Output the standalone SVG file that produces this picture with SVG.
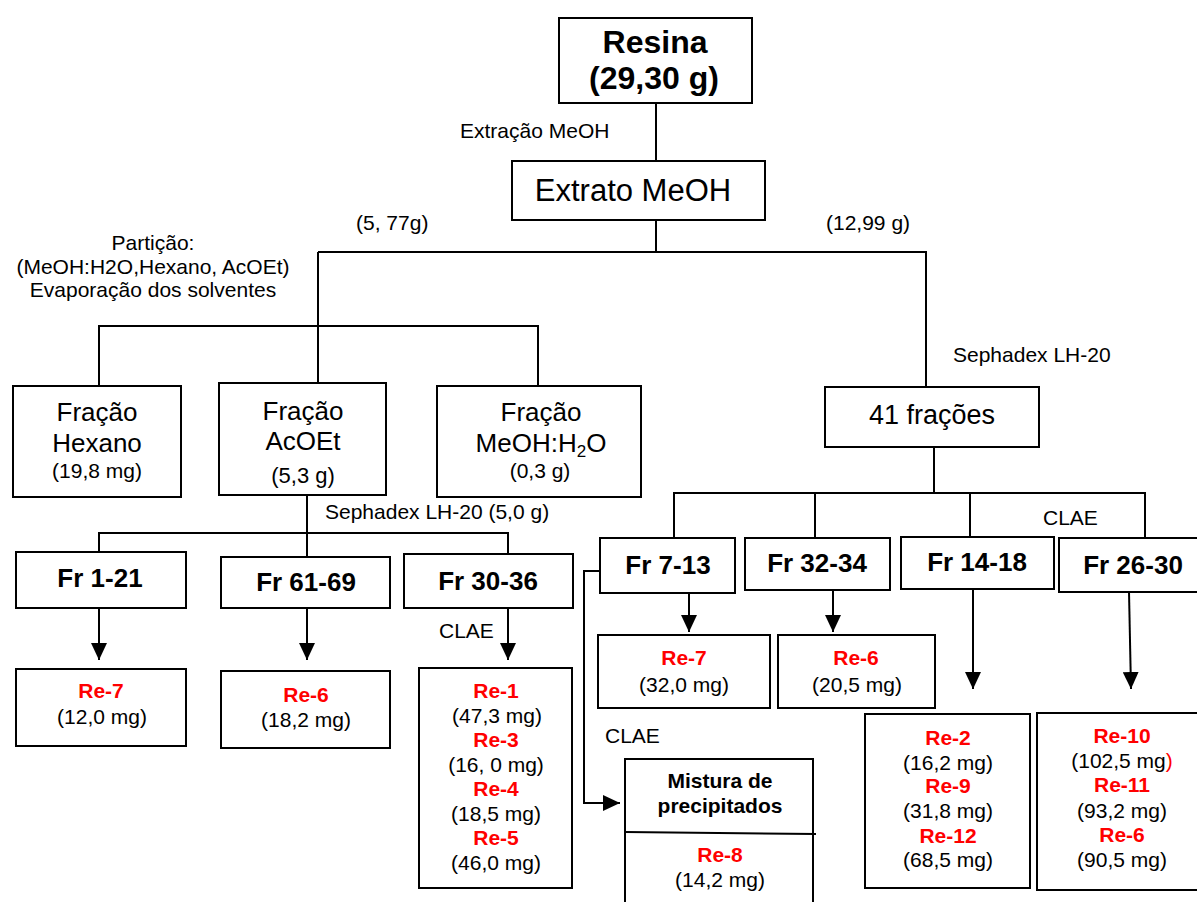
<svg xmlns="http://www.w3.org/2000/svg" width="1197" height="902" viewBox="0 0 1197 902">
<style>
text{font-family:"Liberation Sans",Arial,sans-serif;fill:#000;}
.box{fill:#fff;stroke:#000;stroke-width:2;}
.ln{fill:none;stroke:#000;stroke-width:2;}
.lbl{font-size:21px;}
.big{font-size:26px;text-anchor:middle;}
.fr{font-size:26px;font-weight:bold;text-anchor:middle;}
.re{font-size:21px;font-weight:bold;fill:#ff0000;text-anchor:middle;}
.mg{font-size:21px;text-anchor:middle;}
.c{text-anchor:middle;}
</style>
<defs>
<marker id="ah" markerUnits="userSpaceOnUse" markerWidth="17" markerHeight="16" viewBox="0 0 17 16" refX="17" refY="8" orient="auto">
<path d="M0,0 L17,8 L0,16 Z" fill="#000"/>
</marker>
</defs>
<g id="connectors">
<path class="ln" d="M656,103 V161"/>
<path class="ln" d="M656,220 V252"/>
<path class="ln" d="M318,252 H926 V387"/>
<path class="ln" d="M318,252 V383"/>
<path class="ln" d="M99,386 V326 H538 V386"/>
<path class="ln" d="M934,447 V493"/>
<path class="ln" d="M674,538 V493 H1145 V538"/>
<path class="ln" d="M815,493 V538"/>
<path class="ln" d="M970,493 V537"/>
<path class="ln" d="M307,495 V557"/>
<path class="ln" d="M99,552 V533 H508 V554"/>
<path class="ln" d="M99,608 V660" marker-end="url(#ah)"/>
<path class="ln" d="M307,608 V660" marker-end="url(#ah)"/>
<path class="ln" d="M508,608 V660" marker-end="url(#ah)"/>
<path class="ln" d="M689,593 V632" marker-end="url(#ah)"/>
<path class="ln" d="M833,590 V632" marker-end="url(#ah)"/>
<path class="ln" d="M973,589 V689" marker-end="url(#ah)"/>
<path class="ln" d="M1129,592 L1131,689" marker-end="url(#ah)"/>
<path class="ln" d="M604,571 H584 V803 H620" marker-end="url(#ah)"/>
</g>
<g id="labels">
<text class="lbl" x="460" y="138">Extração  MeOH</text>
<text class="lbl" x="356" y="230">(5, 77g)</text>
<text class="lbl" x="826" y="230">(12,99 g)</text>
<text class="lbl c" x="153" y="250">Partição:</text>
<text class="lbl c" x="153" y="274">(MeOH:H2O,Hexano, AcOEt)</text>
<text class="lbl c" x="153" y="297">Evaporação dos solventes</text>
<text class="lbl" x="953" y="362">Sephadex LH-20</text>
<text class="lbl" x="325" y="519">Sephadex LH-20 (5,0 g)</text>
<text class="lbl" x="1043" y="525">CLAE</text>
<text class="lbl" x="439" y="638">CLAE</text>
<text class="lbl" x="605" y="743">CLAE</text>
</g>
<g id="resina">
<rect class="box" x="559" y="18" width="193" height="85"/>
<text x="655" y="53" style="font-size:32px;font-weight:bold;text-anchor:middle">Resina</text>
<text x="654" y="89" style="font-size:32px;font-weight:bold;text-anchor:middle">(29,30 g)</text>
</g>
<g id="extrato">
<rect class="box" x="512" y="161" width="253" height="59"/>
<text x="633" y="201" style="font-size:31px;text-anchor:middle">Extrato MeOH</text>
</g>
<g id="hexano">
<rect class="box" x="13" y="386" width="168" height="111"/>
<text class="big" x="97" y="421">Fração</text>
<text class="big" x="97" y="452">Hexano</text>
<text class="mg" x="97" y="478">(19,8 mg)</text>
</g>
<g id="acoet">
<rect class="box" x="219" y="383" width="167" height="112"/>
<text class="big" x="303" y="420">Fração</text>
<text class="big" x="303" y="450">AcOEt</text>
<text x="303" y="483" style="font-size:22px;text-anchor:middle">(5,3 g)</text>
</g>
<g id="meohh2o">
<rect class="box" x="437" y="386" width="204" height="111"/>
<text class="big" x="541" y="421">Fração</text>
<text class="big" x="541" y="452">MeOH:H<tspan font-size="17" dy="5">2</tspan><tspan dy="-5">O</tspan></text>
<text class="mg" x="540" y="478">(0,3 g)</text>
</g>
<g id="fracoes41">
<rect class="box" x="825" y="387" width="214" height="60"/>
<text x="932" y="424" style="font-size:27px;text-anchor:middle">41 frações</text>
</g>
<g id="fr1-21">
<rect class="box" x="16" y="552" width="170" height="56"/>
<text class="fr" x="100" y="587">Fr 1-21</text>
</g>
<g id="fr61-69">
<rect class="box" x="221" y="557" width="169" height="51"/>
<text class="fr" x="306" y="591">Fr 61-69</text>
</g>
<g id="fr30-36">
<rect class="box" x="404" y="554" width="169" height="54"/>
<text class="fr" x="488" y="590">Fr 30-36</text>
</g>
<g id="fr7-13">
<rect class="box" x="600" y="538" width="135" height="55"/>
<text class="fr" x="668" y="574">Fr 7-13</text>
</g>
<g id="fr32-34">
<rect class="box" x="745" y="538" width="145" height="52"/>
<text class="fr" x="817" y="572">Fr 32-34</text>
</g>
<g id="fr14-18">
<rect class="box" x="901" y="537" width="153" height="52"/>
<text class="fr" x="977" y="571">Fr 14-18</text>
</g>
<g id="fr26-30">
<rect class="box" x="1059" y="538" width="145" height="54"/>
<text class="fr" x="1133" y="574">Fr 26-30</text>
</g>
<g id="re7a">
<rect class="box" x="16" y="669" width="170" height="77"/>
<text class="re" x="101" y="698">Re-7</text>
<text class="mg" x="102" y="724">(12,0 mg)</text>
</g>
<g id="re6a">
<rect class="box" x="221" y="671" width="169" height="77"/>
<text class="re" x="306" y="702">Re-6</text>
<text class="mg" x="306" y="727">(18,2 mg)</text>
</g>
<g id="re1">
<rect class="box" x="419" y="668" width="153" height="220"/>
<text class="re" x="496" y="698">Re-1</text>
<text class="mg" x="497" y="723">(47,3  mg)</text>
<text class="re" x="496" y="747">Re-3</text>
<text class="mg" x="496" y="772">(16, 0 mg)</text>
<text class="re" x="496" y="796">Re-4</text>
<text class="mg" x="496" y="821">(18,5 mg)</text>
<text class="re" x="496" y="845">Re-5</text>
<text class="mg" x="496" y="870">(46,0 mg)</text>
</g>
<g id="re7b">
<rect class="box" x="598" y="635" width="172" height="73"/>
<text class="re" x="684" y="665">Re-7</text>
<text class="mg" x="684" y="692">(32,0 mg)</text>
</g>
<g id="re6b">
<rect class="box" x="778" y="635" width="157" height="73"/>
<text class="re" x="856" y="665">Re-6</text>
<text class="mg" x="857" y="692">(20,5 mg)</text>
</g>
<g id="mistura">
<rect class="box" x="625" y="759" width="188" height="155"/>
<path class="ln" d="M625,832 L816,834"/>
<text x="720" y="788" style="font-size:21px;font-weight:bold;text-anchor:middle">Mistura de</text>
<text x="720" y="813" style="font-size:21px;font-weight:bold;text-anchor:middle">precipitados</text>
<text class="re" x="720" y="862">Re-8</text>
<text class="mg" x="720" y="887">(14,2 mg)</text>
</g>
<g id="re2">
<rect class="box" x="865" y="714" width="165" height="174"/>
<text class="re" x="948" y="745">Re-2</text>
<text class="mg" x="948" y="770">(16,2 mg)</text>
<text class="re" x="948" y="793">Re-9</text>
<text class="mg" x="948" y="818">(31,8 mg)</text>
<text class="re" x="948" y="843">Re-12</text>
<text class="mg" x="948" y="867">(68,5 mg)</text>
</g>
<g id="re10">
<rect class="box" x="1037" y="713" width="170" height="177"/>
<text class="re" x="1122" y="743">Re-10</text>
<text class="mg" x="1122" y="768">(102,5 mg<tspan fill="#ff0000">)</tspan></text>
<text class="re" x="1122" y="792">Re-11</text>
<text class="mg" x="1122" y="818">(93,2 mg)</text>
<text class="re" x="1122" y="842">Re-6</text>
<text class="mg" x="1122" y="867">(90,5 mg)</text>
</g>
</svg>
